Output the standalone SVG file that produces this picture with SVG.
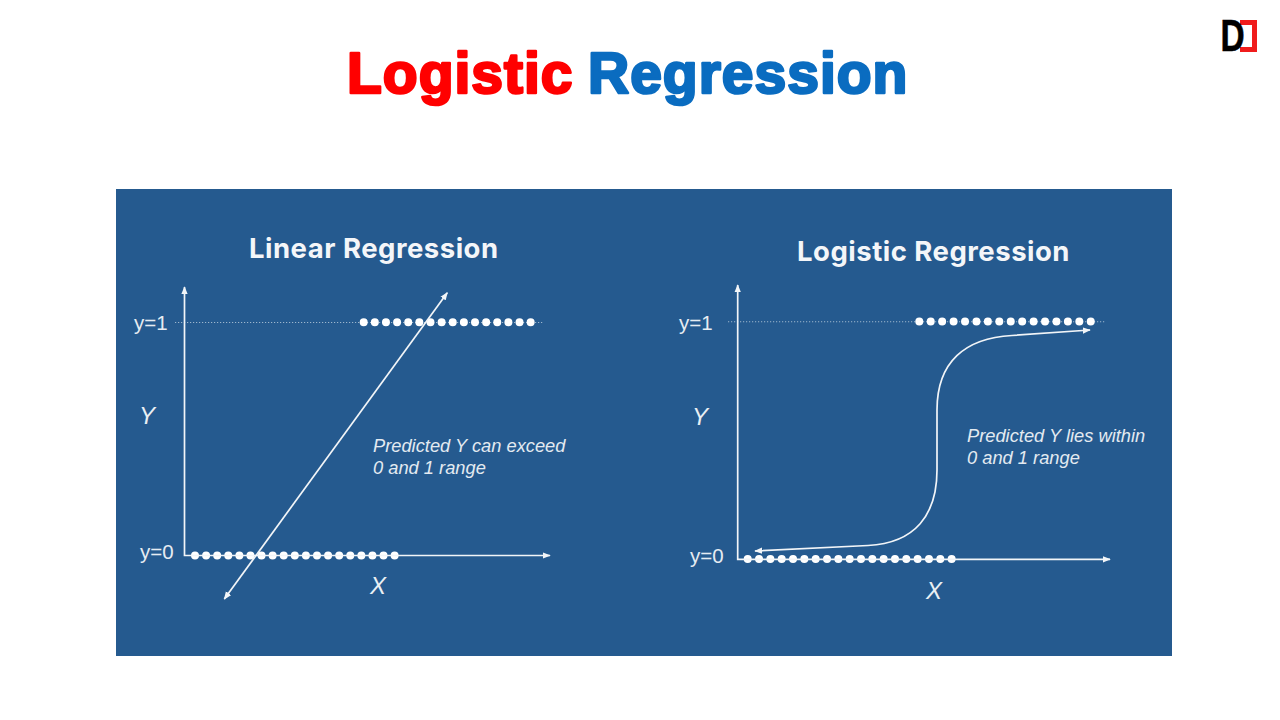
<svg xmlns="http://www.w3.org/2000/svg" width="1280" height="720" viewBox="0 0 1280 720">
<style>
.title{font:bold 57px "Liberation Sans",Arial,sans-serif;stroke-width:2.6px;stroke-linejoin:round;letter-spacing:1px}
.sub{font:bold 27.5px Inter,Lato,sans-serif;fill:#f4f6f9;letter-spacing:.5px}
.lab{font:20.5px "Liberation Sans",Arial,sans-serif;fill:#e6ecf2}
.it{font:italic 18.3px "Liberation Sans",Arial,sans-serif;fill:#e3eaf1}
.ax{font:italic 24px "Liberation Sans",Arial,sans-serif;fill:#e9eff4}
.l{fill:none;stroke:#f2f5f8;stroke-width:1.7}
.d{fill:none;stroke:#9db6cd;stroke-width:1.1;stroke-dasharray:1.2 1.8}
.dots{fill:none;stroke:#fff;stroke-width:8;stroke-linecap:round}
</style>
<defs>
<marker id="a" viewBox="0 0 10 8" refX="9" refY="4" markerWidth="8" markerHeight="7" markerUnits="userSpaceOnUse" orient="auto-start-reverse"><path d="M0 0L10 4L0 8Z" fill="#f2f5f8"/></marker>
</defs>
<rect width="1280" height="720" fill="#fff"/>
<g id="logo">
<rect x="1240" y="20" width="17" height="32" fill="#f01c1c"/>
<rect x="1240" y="25" width="12" height="22" fill="#fff"/>
<text transform="translate(1220.500 51) scale(.76 1)" font-family="Liberation Sans,sans-serif" font-weight="bold" font-size="44" fill="#000" stroke="#000" stroke-width=".6">D</text>
</g>
<g id="title">
<text class="title" x="347" y="93" fill="#ff0000" stroke="#ff0000">Logistic</text>
<text class="title" x="588" y="93" fill="#0a6cc0" stroke="#0a6cc0">Regression</text>
</g>
<rect id="panel" x="116" y="189" width="1056" height="467" fill="#255a8f"/>
<g id="left-chart">
<text class="sub" x="249" y="258">Linear Regression</text>
<text class="lab" x="134" y="330">y=1</text>
<text class="lab" x="140" y="559">y=0</text>
<text class="ax" x="139" y="424">Y</text>
<text class="ax" x="370" y="594">X</text>
<text class="it" x="373" y="452">Predicted Y can exceed</text>
<text class="it" x="373" y="474">0 and 1 range</text>
<path class="d" d="M175 322.500H543"/>
<path class="dots" stroke-dasharray="0 11.13" d="M363.700 322.300H531"/>
<path class="dots" stroke-dasharray="0 11.09" d="M195 555.500H395"/>
</g>
<g id="right-chart">
<text class="sub" x="797" y="261">Logistic Regression</text>
<text class="lab" x="679" y="330">y=1</text>
<text class="lab" x="690" y="563">y=0</text>
<text class="ax" x="692" y="425">Y</text>
<text class="ax" x="926" y="599">X</text>
<text class="it" x="967" y="442">Predicted Y lies within</text>
<text class="it" x="967" y="464">0 and 1 range</text>
<path class="d" d="M728 321.700H1105"/>
<path class="dots" stroke-dasharray="0 11.43" d="M919.300 321.500H1091"/>
<path class="dots" stroke-dasharray="0 11.33" d="M747.700 559H952"/>
</g>
<g id="connectors">
<path class="l" marker-start="url(#a)" marker-end="url(#a)" d="M184.500 287V555.500H550"/>
<path class="l" marker-start="url(#a)" marker-end="url(#a)" d="M224.300 599L447.300 292.700"/>
<path class="l" marker-start="url(#a)" marker-end="url(#a)" d="M737.700 285V559.300H1110"/>
<path class="l" marker-start="url(#a)" marker-end="url(#a)" d="M1090 330L1012 335.500C965 338 937 362 937 410V470C937 515 915 543 868 545.500L755 551"/>
</g>
</svg>
